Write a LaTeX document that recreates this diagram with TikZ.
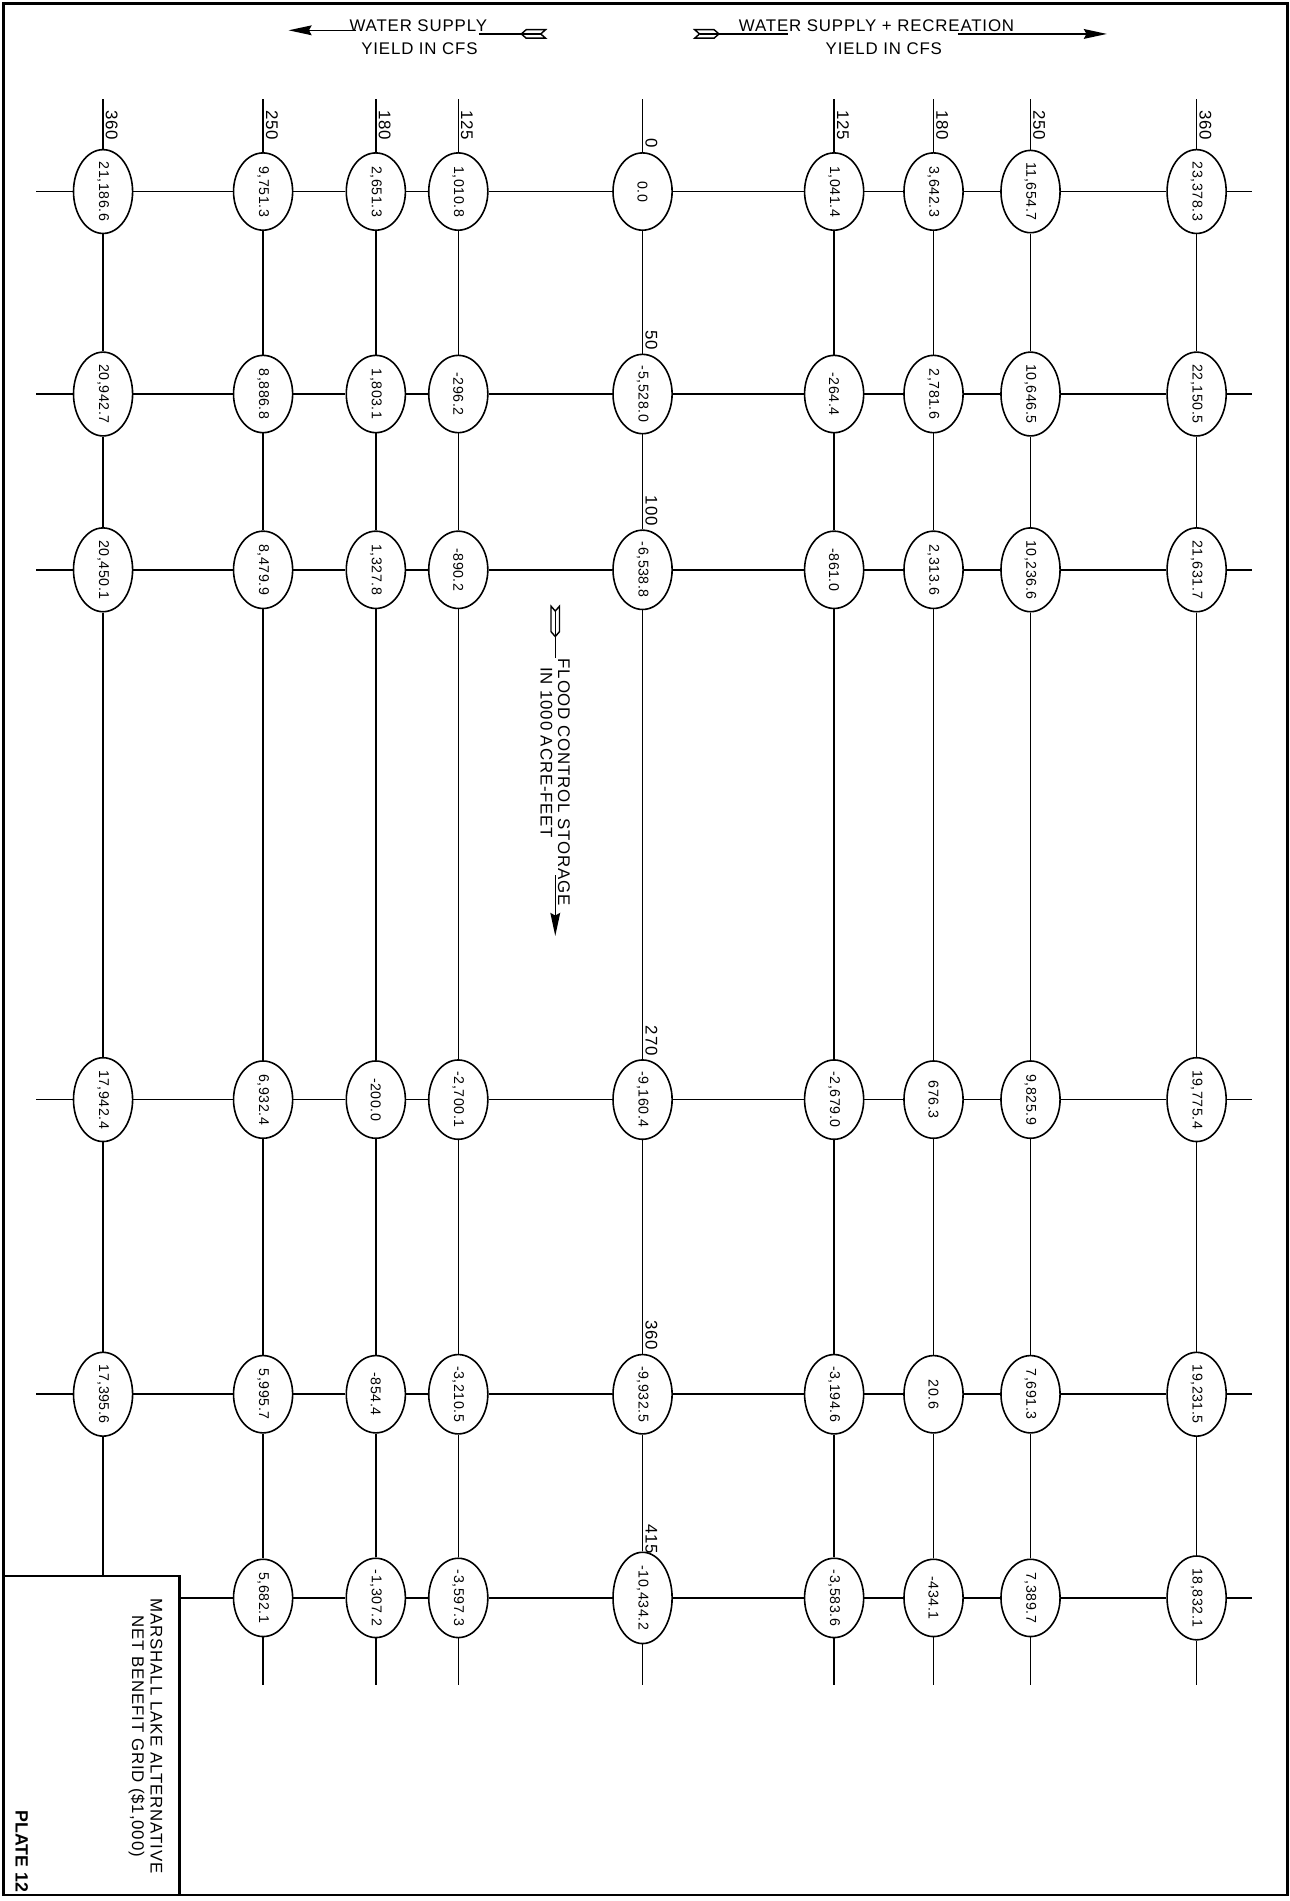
\documentclass[tikz,border=0pt]{standalone}
\usepackage{fontspec}
\setmainfont{Liberation Sans}
\newfontfamily\spacedfont[LetterSpace=5]{Liberation Sans}
\newfontfamily\numfont[LetterSpace=4]{Liberation Sans}
\usetikzlibrary{shapes.geometric,arrows.meta}
\begin{document}
\begin{tikzpicture}[x=0.024cm,y=-0.024cm,
  cell/.style={ellipse,draw,line width=0.9pt,rotate=-90,minimum width=1.53cm,minimum height=1.17cm,inner sep=0pt,font=\numfont\fontsize{8}{9}\selectfont},
  grid/.style={line width=0.85pt},
  lab/.style={rotate=-90,inner sep=0pt,font=\spacedfont\fontsize{9.5}{10}\selectfont},
  ttl/.style={inner sep=0pt,font=\spacedfont\fontsize{9.5}{10.5}\selectfont},
  head/.style={-{Stealth[length=13pt,width=5.5pt,inset=1.5pt]}},
]
\useasboundingbox (0,0) rectangle (1064,1568);
\draw[line width=1.5pt] (3,3) rectangle (1062,1563);
\def\xs{{85,217,310,378,530,688,770,850,987}}
\def\ys{{158,325,470,907,1150,1318}}
% ellipses
\newcommand\gridrow[3]{%
  \foreach \vv [count=\cc from #2] in {#3} {%
    \pgfmathsetmacro\xx{\xs[\cc-1]}\pgfmathsetmacro\yy{\ys[#1-1]}%
    \node[cell] (n\cc-#1) at (\xx,\yy) {\vv};}}
\gridrow{1}{1}{{21,186.6},{9,751.3},{2,651.3},{1,010.8},{0.0},{1,041.4},{3,642.3},{11,654.7},{23,378.3}}
\gridrow{2}{1}{{20,942.7},{8,886.8},{1,803.1},{-296.2},{-5,528.0},{-264.4},{2,781.6},{10,646.5},{22,150.5}}
\gridrow{3}{1}{{20,450.1},{8,479.9},{1,327.8},{-890.2},{-6,538.8},{-861.0},{2,313.6},{10,236.6},{21,631.7}}
\gridrow{4}{1}{{17,942.4},{6,932.4},{-200.0},{-2,700.1},{-9,160.4},{-2,679.0},{676.3},{9,825.9},{19,775.4}}
\gridrow{5}{1}{{17,395.6},{5,995.7},{-854.4},{-3,210.5},{-9,932.5},{-3,194.6},{20.6},{7,691.3},{19,231.5}}
\gridrow{6}{2}{{5,682.1},{-1,307.2},{-3,597.3},{-10,434.2},{-3,583.6},{-434.1},{7,389.7},{18,832.1}}
% free ends
\foreach \rr in {1,...,6} {\pgfmathsetmacro\yy{\ys[\rr-1]}
  \coordinate (L\rr) at (30,\yy); \coordinate (R\rr) at (1033,\yy);}
\foreach \cc in {1,...,9} {\pgfmathsetmacro\xx{\xs[\cc-1]}
  \coordinate (T\cc) at (\xx,82); \coordinate (B\cc) at (\xx,1390);}
\coordinate (boxT) at (85,1300);
\coordinate (boxR) at (148,1318);
% horizontal lines
\foreach \rr in {1,...,5} {
  \draw[grid] (L\rr) -- (n1-\rr);
  \foreach \cc in {1,...,8} {\pgfmathtruncatemacro\nn{\cc+1}\draw[grid] (n\cc-\rr) -- (n\nn-\rr);}
  \draw[grid] (n9-\rr) -- (R\rr);}
\draw[grid] (boxR) -- (n2-6);
\foreach \cc in {2,...,8} {\pgfmathtruncatemacro\nn{\cc+1}\draw[grid] (n\cc-6) -- (n\nn-6);}
\draw[grid] (n9-6) -- (R6);
% vertical lines
\foreach \cc in {1,...,9} {
  \draw[grid] (T\cc) -- (n\cc-1);
  \foreach \rr in {1,...,4} {\pgfmathtruncatemacro\nn{\rr+1}\draw[grid] (n\cc-\rr) -- (n\cc-\nn);}}
\draw[grid] (n1-5) -- (boxT);
\foreach \cc in {2,...,9} {\draw[grid] (n\cc-5) -- (n\cc-6); \draw[grid] (n\cc-6) -- (B\cc);}
% column labels
\foreach \cc/\tt in {1/360,2/250,3/180,4/125,6/125,7/180,8/250,9/360} {
  \pgfmathsetmacro\xx{\xs[\cc-1]}
  \node[lab,anchor=south east] (top\cc) at (\xx+2,116) {\tt};}
% row labels on zero column
\foreach \rr/\tt in {1/0,2/50,3/100,4/270,5/360,6/415} {
  \pgfmathsetmacro\yy{\ys[\rr-1]-36}
  \node[lab,anchor=south east] (rl\rr) at (532,\yy) {\tt};}
% left header arrow
\node[ttl] (lt1) at (345,21) {WATER SUPPLY};
\node[ttl] (lt2) at (346,40) {YIELD IN CFS};
\coordinate (lta) at (294,25);
\coordinate (ltip) at (238,25);
\draw[grid,head] (lta) -- (ltip);
\coordinate (ltb) at (395,28);
\coordinate (ltc) at (446,28);
\draw[grid] (ltb) -- (ltc);
\draw[line width=0.8pt] (430,28) -- (434,24.5) -- (450,24.5) -- (446,28) -- (450,31.5) -- (434,31.5) -- cycle;
% right header arrow
\node[ttl] (rt1) at (723,21) {WATER SUPPLY + RECREATION};
\node[ttl] (rt2) at (729,40) {YIELD IN CFS};
\draw[line width=0.8pt] (593,28) -- (589,24.5) -- (573,24.5) -- (577,28) -- (573,31.5) -- (589,31.5) -- cycle;
\coordinate (rta) at (577,28);
\coordinate (rtb) at (650,28);
\draw[grid] (rta) -- (rtb);
\coordinate (rtc) at (790,28);
\coordinate (rtip) at (913,28);
\draw[grid,head] (rtc) -- (rtip);
% flood control arrow
\draw[line width=0.8pt] (458,525) -- (454.5,521) -- (454.5,500) -- (458,504) -- (461.5,500) -- (461.5,521) -- cycle;
\coordinate (fa) at (458,504);
\coordinate (fb) at (458,543);
\draw[grid] (fa) -- (fb);
\node[ttl,rotate=-90,anchor=south west] (ft1) at (460,543) {FLOOD CONTROL STORAGE};
\node[ttl,rotate=-90,anchor=north west] (ft2) at (456,550) {IN 1000 ACRE-FEET};
\coordinate (fc) at (458,722);
\coordinate (ftip) at (458,772);
\draw[grid,head] (fc) -- (ftip);
% title box
\draw[line width=1.3pt] (3,1300) -| (148,1563);
\node[ttl,rotate=-90,align=center] (title) at (120,1432) {MARSHALL LAKE ALTERNATIVE\\NET BENEFIT GRID (\$1,000)};
\node[rotate=-90,inner sep=0pt,font=\bfseries\fontsize{10}{11}\selectfont] (plate) at (18,1527) {PLATE 12};
\end{tikzpicture}
\end{document}
